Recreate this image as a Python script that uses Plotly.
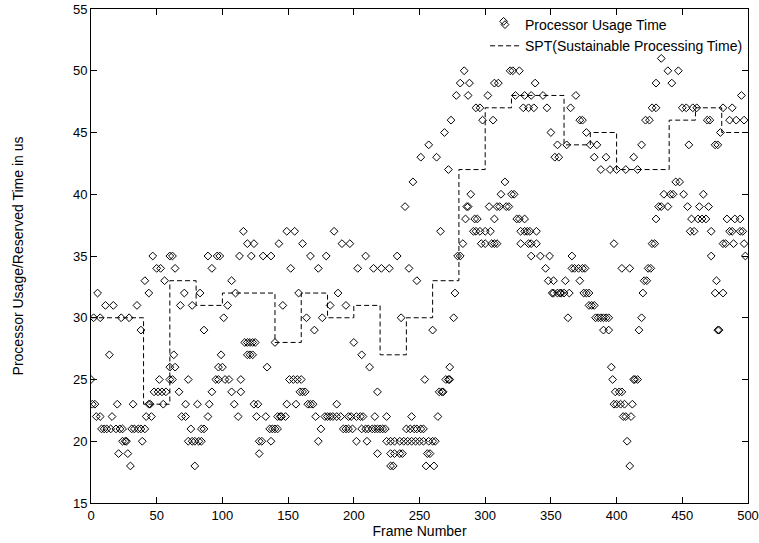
import plotly.graph_objects as go

# Processor usage time readings (us), grouped by the usage level
usage_levels = [54, 51, 50, 49, 48, 47, 46, 45, 44, 43, 42, 41, 40, 39, 38, 37, 36, 35,
                34, 33, 32, 31, 30, 29, 28, 27, 26, 25, 24, 23, 22, 21, 20, 19, 18]
frames_by_level = [
    [314],
    [434],
    [284, 319, 321, 326, 439, 447],
    [281, 288, 307, 310, 338, 430, 442],
    [278, 287, 302, 323, 330, 335, 344, 369, 495],
    [293, 296, 329, 333, 337, 347, 365, 427, 430, 450, 453, 458, 461, 481, 488],
    [274, 298, 306, 372, 374, 422, 425, 469, 471, 486, 491, 497],
    [269, 350, 377, 479],
    [257, 355, 362, 380, 385, 419, 455, 475, 477],
    [251, 263, 353, 356, 383, 392, 413],
    [272, 388, 395, 400, 407, 416],
    [245, 315, 445, 448],
    [289, 312, 320, 322, 436, 441, 443, 451, 466],
    [239, 286, 287, 303, 309, 311, 316, 318, 432, 434, 439, 454, 463, 470],
    [285, 292, 294, 307, 324, 326, 330, 430, 457, 462, 465, 468, 484, 490, 494],
    [116, 149, 155, 185, 266, 291, 293, 296, 300, 304, 327, 330, 332, 334, 339,
     456, 459, 472, 486, 488, 494, 496],
    [119, 124, 143, 161, 191, 197, 283, 297, 300, 305, 307, 309, 327, 333, 335, 339,
     398, 427, 429, 481, 483, 489, 497],
    [47, 60, 62, 89, 96, 98, 113, 122, 131, 137, 167, 179, 209, 233, 279, 281, 335,
     342, 349, 366, 472, 498],
    [50, 53, 64, 92, 152, 173, 203, 215, 221, 227, 242, 346, 366, 368, 371, 374, 376,
     404, 410, 424, 426],
    [41, 56, 107, 248, 348, 352, 361, 372, 421, 423, 476],
    [5, 44, 71, 83, 110, 158, 188, 277, 351, 352, 355, 357, 358, 360, 364, 375, 377,
     379, 420, 475, 481],
    [11, 17, 35, 68, 77, 104, 146, 182, 194, 379, 381, 383],
    [2, 7, 23, 29, 101, 164, 176, 236, 276, 363, 384, 386, 388, 390, 392, 394, 419],
    [38, 86, 170, 260, 390, 394, 417, 477, 478],
    [117, 119, 121, 123, 125, 140, 200],
    [14, 63, 99, 119, 121, 123, 206],
    [60, 64, 97, 100, 134, 212, 273, 396],
    [0, 52, 60, 62, 74, 95, 97, 102, 105, 114, 151, 154, 157, 160, 254, 270, 272, 273,
     397, 413, 414, 416],
    [48, 51, 54, 57, 67, 92, 107, 114, 159, 161, 163, 218, 265, 267, 268, 399, 402, 404],
    [1, 3, 20, 32, 44, 45, 55, 72, 81, 90, 109, 124, 127, 149, 156, 165, 167, 169, 187,
     398, 400, 403, 406, 412],
    [4, 7, 16, 42, 46, 69, 72, 89, 112, 126, 133, 142, 144, 145, 148, 171, 178, 180, 182,
     184, 187, 190, 196, 198, 202, 205, 207, 216, 225, 244, 264, 405, 407, 411],
    [8, 10, 12, 15, 19, 22, 24, 31, 33, 36, 38, 41, 76, 84, 86, 136, 138, 140, 142, 175,
     192, 194, 196, 199, 206, 209, 211, 214, 216, 218, 220, 222, 224, 240, 243, 246, 248,
     251, 253],
    [24, 26, 27, 39, 74, 77, 79, 82, 84, 128, 130, 137, 173, 202, 210, 225, 228, 231, 235,
     238, 241, 244, 247, 250, 253, 257, 260, 262, 408],
    [21, 28, 128, 218, 228, 231, 235, 237, 256, 258],
    [30, 79, 228, 230, 255, 261, 410],
]

# Sustainable Processing Time (step function)
spt_frames = [0, 40, 60, 80, 100, 140, 160, 180, 200, 220, 240, 260, 280, 300, 320,
              360, 380, 400, 440, 460, 480, 500]
spt_values = [30, 23, 33, 31, 32, 28, 32, 30, 31, 27, 30, 33, 42, 47, 48,
              44, 45, 42, 46, 47, 45, 45]

x_ticks = list(range(0, 501, 50))
y_ticks = list(range(15, 56, 5))

usage_frames, usage_values = [], []
for lvl, frs in zip(usage_levels, frames_by_level):
    for f in frs:
        usage_frames.append(f)
        usage_values.append(lvl)

FONT = "Liberation Sans, Arial, Helvetica, sans-serif"
FS = 14
TFS = 13

fig = go.Figure()
fig.add_trace(go.Scatter(
    x=usage_frames, y=usage_values, mode="markers",
    name="Processor Usage Time",
    marker=dict(symbol="diamond-open", size=6, color="black", line=dict(width=1, color="black")),
))
fig.add_trace(go.Scatter(
    x=spt_frames, y=spt_values, mode="lines", line_shape="hv",
    name="SPT(Sustainable Processing Time)",
    line=dict(color="black", width=1, dash="5px,3px"),
))

axis_common = dict(
    showgrid=False, zeroline=False, showline=True, linecolor="black", linewidth=1,
    mirror="ticks", ticks="inside", ticklen=6, tickwidth=1, tickcolor="black",
    tickfont=dict(family=FONT, size=TFS, color="black"),
)
fig.update_xaxes(range=[0, 500], tickvals=x_ticks, ticktext=[str(v) for v in x_ticks],
                 title=dict(text="Frame Number", font=dict(family=FONT, size=FS, color="black"), standoff=0),
                 **axis_common)
fig.update_yaxes(range=[15, 55], tickvals=y_ticks, ticktext=[str(v) for v in y_ticks],
                 title=dict(text="Processor Usage/Reserved Time in us", font=dict(family=FONT, size=FS, color="black"), standoff=46),
                 **axis_common)

fig.update_layout(
    width=759, height=543,
    margin=dict(l=91, r=11, t=9, b=40, autoexpand=False),
    paper_bgcolor="white", plot_bgcolor="white",
    font=dict(family=FONT, size=FS, color="black"),
    showlegend=True,
    legend=dict(x=1, y=1, xanchor="right", yanchor="top", bgcolor="rgba(0,0,0,0)",
                font=dict(family=FONT, size=FS, color="black"), tracegroupgap=0,
                itemwidth=30),
)

fig.write_html("out.html")
